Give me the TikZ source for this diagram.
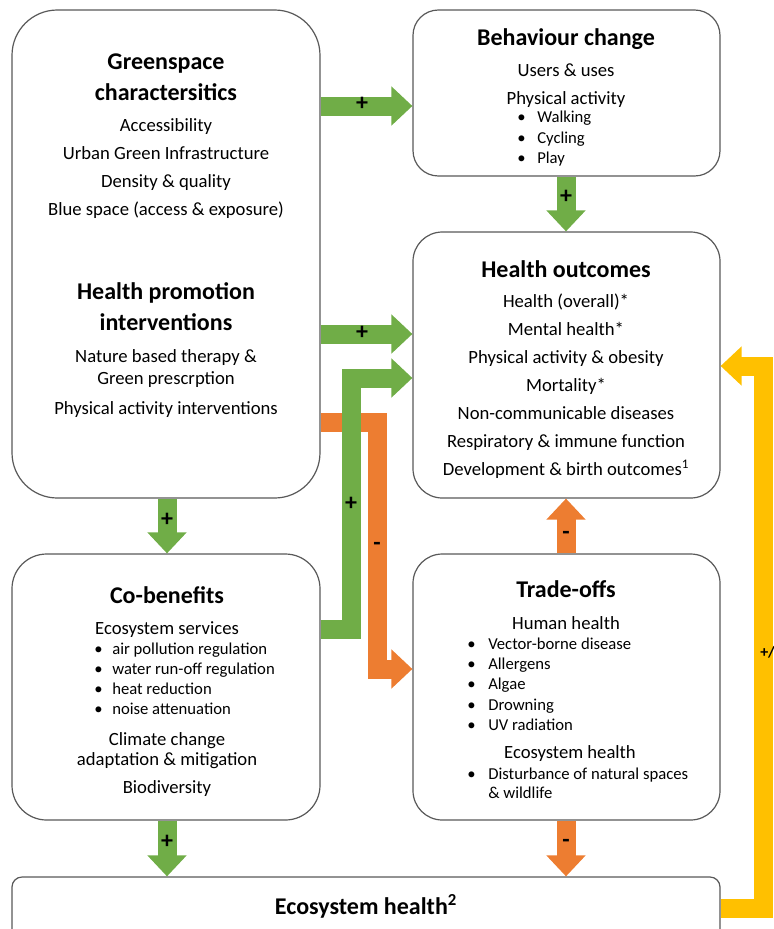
\documentclass[tikz,border=0pt]{standalone}
\usepackage{fontspec}
\setmainfont{Carlito}
\usetikzlibrary{arrows.meta}
\definecolor{ggreen}{HTML}{70AD47}
\definecolor{gorange}{HTML}{ED7D31}
\definecolor{gyellow}{HTML}{FFC000}
\definecolor{gborder}{HTML}{595959}
\begin{document}
\begin{tikzpicture}[x=0.75pt,y=-0.75pt,
 box/.style={draw=gborder, line width=0.9pt, fill=white, inner sep=0pt, rectangle},
 ttl/.style={font=\fontsize{18}{21}\selectfont\bfseries, inner sep=0pt, text height=0.65em, text depth=0pt, yshift=-3pt},
 txt/.style={font=\fontsize{14}{17}\selectfont, inner sep=0pt, text height=0.65em, text depth=0pt, yshift=-2pt},
 sm/.style={font=\fontsize{12.5}{15}\selectfont, inner sep=0pt, text height=0.65em, text depth=0pt, anchor=west, yshift=-1.5pt},
 sgn/.style={font=\fontsize{18}{18}\selectfont\bfseries, inner sep=0pt},
 blk/.style={line width=14.25pt, line join=miter, -{Triangle[width=28.5pt,length=15.75pt]}}]
\useasboundingbox (0,0) rectangle (774,929);
\clip (0,0) rectangle (774,929);

% boxes
\node[box, minimum width=231pt, minimum height=366pt, rounded corners=34pt] (gs) at (166,254) {};
\node[box, minimum width=230.25pt, minimum height=124.5pt, rounded corners=19pt] (bc) at (566.5,93) {};
\node[box, minimum width=230.25pt, minimum height=199.5pt, rounded corners=22pt] (ho) at (566.5,365) {};
\node[box, minimum width=231pt, minimum height=199.5pt, rounded corners=26pt] (cb) at (166,687) {};
\node[box, minimum width=230.25pt, minimum height=199.5pt, rounded corners=22pt] (to) at (566.5,687) {};
\node[box, minimum width=531pt, minimum height=75pt, rounded corners=7.5pt] (eh) at (366,927) {};

% arrows
\draw[blk, gorange] (gs.east |- 0,422) -| (377,669) -- (to.west |- 0,669);
\draw[blk, ggreen] (cb.east |- 0,629) -| (351,378) -- (ho.west |- 0,378);
\draw[blk, ggreen] (gs.east |- 0,106) -- (bc.west |- 0,106);
\draw[blk, ggreen] (gs.east |- 0,334) -- (ho.west |- 0,334);
\draw[blk, ggreen] (gs.south -| 167,0) -- (cb.north -| 167,0);
\draw[blk, ggreen] (bc.south -| 566,0) -- (ho.north -| 566,0);
\draw[blk, gorange] (to.north -| 566,0) -- (ho.south -| 566,0);
\draw[blk, ggreen] (cb.south -| 167,0) -- (eh.north -| 167,0);
\draw[blk, gorange] (to.south -| 566,0) -- (eh.north -| 566,0);
\draw[blk, gyellow] (eh.east |- 0,908) -| (763,366) -- (ho.east |- 0,366);

% signs
\node[sgn] (s1) at (362,104) {+};
\node[sgn] (s2) at (362,333) {+};
\node[sgn] (s3) at (351,504) {+};
\node[sgn] (s4) at (167,520) {+};
\node[sgn] (s5) at (566,197) {+};
\node[sgn] (s6) at (167,842) {+};
\node[sgn] (m1) at (377,546) {-};
\node[sgn] (m2) at (566,535) {-};
\node[sgn] (m3) at (566,843) {-};
\node[font=\fontsize{12}{12}\selectfont\bfseries, inner sep=0pt, anchor=west] (pm) at (760,652) {+/-};

% Greenspace box text
\node[ttl] (g1) at (166,61) {Greenspace};
\node[ttl] (g2) at (166,92) {charactersitics};
\node[txt] (g3) at (166,124) {Accessibility};
\node[txt] (g4) at (166,152) {Urban Green Infrastructure};
\node[txt] (g5) at (166,180) {Density \& quality};
\node[txt] (g6) at (166,208) {Blue space (access \& exposure)};
\node[ttl] (g7) at (166,291) {Health promotion};
\node[ttl] (g8) at (166,322) {interventions};
\node[txt] (g9) at (166,355) {Nature based therapy \&};
\node[txt] (g10) at (166,377) {Green prescrption};
\node[txt] (g11) at (166,407) {Physical activity interventions};

% Behaviour change
\node[ttl] (b1) at (566,37) {Behaviour change};
\node[txt] (b2) at (566,69) {Users \& uses};
\node[txt] (b3) at (566,97) {Physical activity};
\foreach \t [count=\i] in {Walking,Cycling,Play}{
  \node[sm] (bb\i) at (517,96+20.5*\i) {•};
  \node[sm] (bt\i) at (537,96+20.5*\i) {\t};
}

% Health outcomes
\node[ttl] (h0) at (566,269) {Health outcomes};
\node[txt] (h1) at (566,300) {Health (overall)*};
\node[txt] (h2) at (566,328) {Mental health*};
\node[txt] (h3) at (566,356) {Physical activity \& obesity};
\node[txt] (h4) at (566,384) {Mortality*};
\node[txt] (h5) at (566,412) {Non-communicable diseases};
\node[txt] (h6) at (566,440) {Respiratory \& immune function};
\node[txt] (h7) at (566,468) {Development \& birth outcomes\textsuperscript{1}};

% Co-benefits
\node[ttl] (c0) at (167,595) {Co-benefits};
\node[txt] (c1) at (167,627) {Ecosystem services};
\foreach \t [count=\i] in {air pollution regulation,water run-off regulation,heat reduction,noise attenuation}{
  \node[sm] (cbb\i) at (94,628+20*\i) {•};
  \node[sm] (cbt\i) at (112,628+20*\i) {\t};
}
\node[txt] (c2) at (167,738) {Climate change};
\node[txt] (c3) at (167,758) {adaptation \& mitigation};
\node[txt] (c4) at (167,786) {Biodiversity};

% Trade-offs
\node[ttl] (t0) at (566,589) {Trade-offs};
\node[txt] (t1) at (566,622) {Human health};
\foreach \t [count=\i] in {Vector-borne disease,Allergens,Algae,Drowning,UV radiation}{
  \node[sm] (tb\i) at (467,623+20.2*\i) {•};
  \node[sm] (tt\i) at (488,623+20.2*\i) {\t};
}
\node[txt] (t2) at (570,751) {Ecosystem health};
\node[sm] (tb6) at (467,773) {•};
\node[sm] (tt6) at (488,773) {Disturbance of natural spaces};
\node[sm] (tt7) at (488,792) {\& wildlife};

% Ecosystem health
\node[ttl] (e0) at (366,906) {Ecosystem health\textsuperscript{2}};
\end{tikzpicture}
\end{document}
